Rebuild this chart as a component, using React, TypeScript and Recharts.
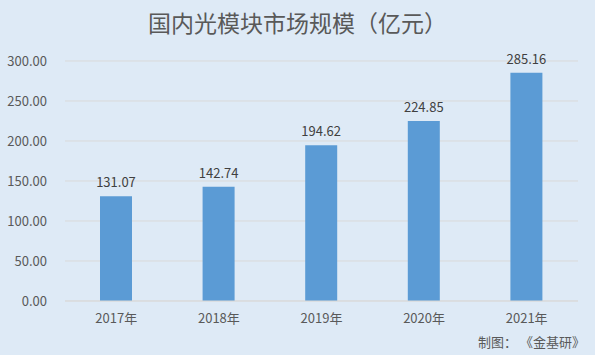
import { BarChart, Bar, XAxis, YAxis, CartesianGrid, LabelList } from "recharts";

const years = ["2017年", "2018年", "2019年", "2020年", "2021年"];
const marketSize = [131.07, 142.74, 194.62, 224.85, 285.16];
const yTicks = [0, 50, 100, 150, 200, 250, 300];

const data = years.map((year, i) => ({ year, value: marketSize[i] }));

const FONT = '"Noto Sans CJK SC", "Noto Sans", sans-serif';
const TEXT = "#595959";

export default function App() {
  return (
    <div
      style={{
        position: "absolute",
        left: 0,
        top: 0,
        width: 595,
        height: 355,
        background: "#deeaf6",
        fontFamily: FONT,
      }}
    >
      <div
        style={{
          position: "absolute",
          top: 6,
          left: 0,
          width: 595,
          textAlign: "center",
          fontSize: 23,
          color: TEXT,
          lineHeight: "32px",
        }}
      >
        国内光模块市场规模（亿元）
      </div>
      <BarChart width={595} height={355} data={data} margin={{ top: 61, right: 17, bottom: 24, left: 0 }}>
        <CartesianGrid vertical={false} stroke="#d9d9d9" />
        <XAxis
          dataKey="year"
          height={30}
          axisLine={{ stroke: "#d9d9d9" }}
          tickLine={false}
          tickSize={0}
          tickMargin={13}
          tick={{ fill: TEXT, fontSize: 13, fontFamily: FONT }}
        />
        <YAxis
          width={65}
          domain={[0, 300]}
          ticks={yTicks}
          axisLine={false}
          tickLine={false}
          tickSize={0}
          tickMargin={18}
          tickFormatter={(v: number) => v.toFixed(2)}
          tick={{ fill: TEXT, fontSize: 13, fontFamily: FONT }}
        />
        <Bar dataKey="value" fill="#5b9bd5" barSize={32} isAnimationActive={false}>
          <LabelList
            dataKey="value"
            position="top"
            offset={9}
            formatter={(v: number) => v.toFixed(2)}
            style={{ fill: "#404040", fontSize: 13, fontFamily: FONT }}
          />
        </Bar>
      </BarChart>
      <div
        style={{
          position: "absolute",
          right: 10,
          top: 333,
          fontSize: 13,
          color: TEXT,
          lineHeight: "18px",
        }}
      >
        制图： 《金基研》
      </div>
    </div>
  );
}
